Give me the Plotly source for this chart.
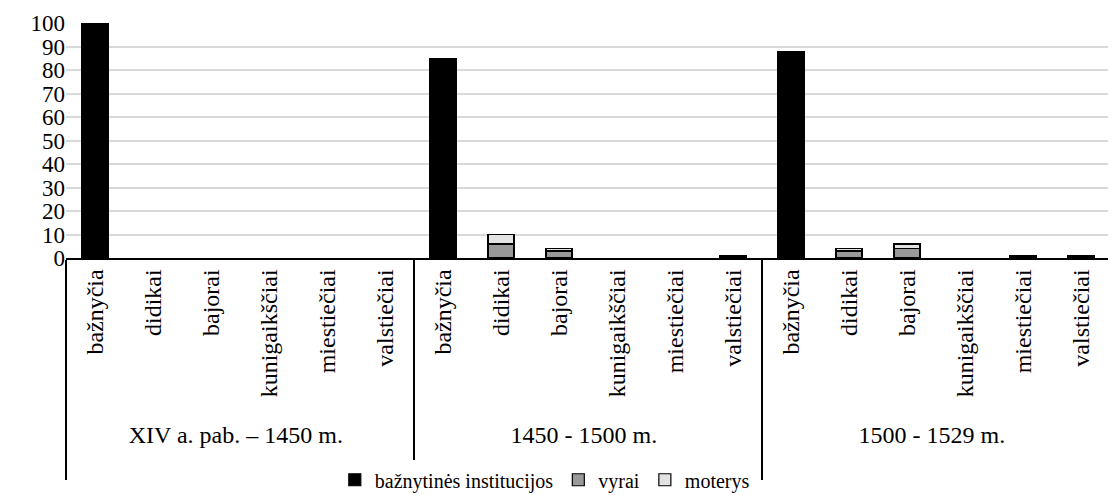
import plotly.graph_objects as go

periods = ["XIV a. pab. – 1450 m.", "1450 - 1500 m.", "1500 - 1529 m."]
categories = ["bažnyčia", "didikai", "bajorai", "kunigaikščiai", "miestiečiai", "valstiečiai"]

baznytines = [100, None, None, None, None, None,
              85, None, None, None, None, 1,
              88, None, None, None, 1, 1]
vyrai = [None, None, None, None, None, None,
         None, 6, 3, None, None, None,
         None, 3, 4, None, None, None]
moterys = [None, None, None, None, None, None,
           None, 4, 1, None, None, None,
           None, 1, 2, None, None, None]

series_names = ["bažnytinės institucijos", "vyrai", "moterys"]
series_colors = ["#000000", "#999999", "#e3e3e3"]

period_labels = [p + "<br> " for p in periods]
x_outer = [p for p in period_labels for _ in categories]
x_inner = [c for _ in periods for c in categories]

SERIF = "Liberation Serif"

fig = go.Figure()
for name, vals, col in zip(series_names, [baznytines, vyrai, moterys], series_colors):
    fig.add_trace(go.Bar(
        x=[x_outer, x_inner], y=vals, name=name,
        marker=dict(color=col, line=dict(color="#000000", width=1.2)),
    ))

fig.update_layout(
    barmode="stack",
    bargap=0.55,
    width=1116, height=495,
    margin=dict(l=58, r=14, t=15, b=245, autoexpand=False),
    paper_bgcolor="white", plot_bgcolor="white",
    font=dict(family=SERIF, size=23, color="#000000"),
    legend=dict(orientation="h", xref="container", yref="container",
                x=0.481, xanchor="center", y=0.047, yanchor="middle",
                font=dict(family=SERIF, size=20), traceorder="normal"),
    showlegend=True,
)
fig.update_yaxes(range=[0, 100], dtick=10, showgrid=True, gridcolor="#d9d9d9", gridwidth=1.5,
                 zeroline=False, showline=False, tickfont=dict(family=SERIF, size=23), ticks="")
fig.update_xaxes(type="multicategory", showline=True, linecolor="#000000", linewidth=1.5,
                 tickangle=-90, showdividers=True, dividercolor="#000000", dividerwidth=1.5,
                 tickfont=dict(family=SERIF, size=24), ticks="")

fig.write_html("out.html")
